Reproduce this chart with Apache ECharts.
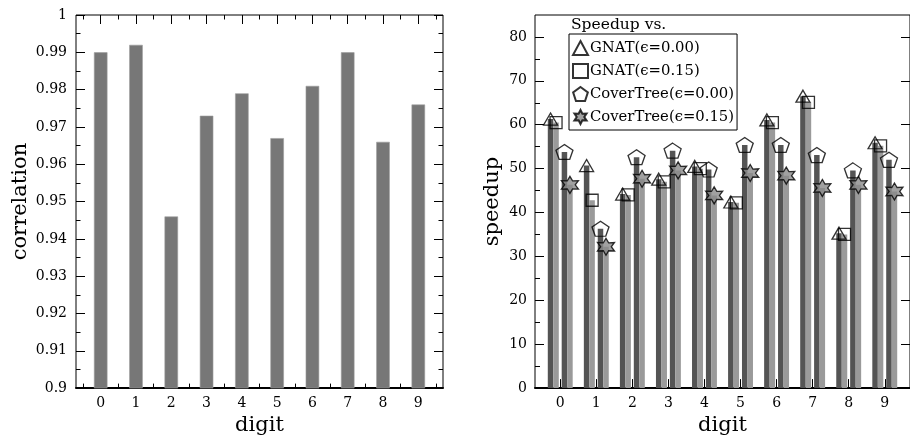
<!DOCTYPE html>
<html><head><meta charset="utf-8">
<script src="https://cdn.jsdelivr.net/npm/echarts@6/dist/echarts.min.js"></script>
<style>html,body{margin:0;padding:0;background:#fff}#c{width:910px;height:441px}</style>
</head><body><div id="c"></div>
<script>
// ---- data ----
const digits = [0, 1, 2, 3, 4, 5, 6, 7, 8, 9];
const correlation = [0.990, 0.992, 0.946, 0.973, 0.979, 0.967, 0.981, 0.990, 0.966, 0.976];
const gnat000 = [61.3, 50.7, 44.2, 47.6, 50.5, 42.4, 61.1, 66.5, 35.3, 55.9];
const gnat015 = [60.5, 42.8, 44.0, 47.0, 50.0, 42.2, 60.5, 65.1, 35.0, 55.2];
const cover000 = [53.8, 36.3, 52.6, 54.1, 49.8, 55.4, 55.4, 53.1, 49.6, 52.0];
const cover015 = [46.3, 32.2, 47.7, 49.6, 43.9, 49.0, 48.4, 45.6, 46.3, 44.8];
const speedTicks = [0, 10, 20, 30, 40, 50, 60, 70, 80];
const seriesNames = ['GNAT(\u03f5=0.00)', 'GNAT(\u03f5=0.15)', 'CoverTree(\u03f5=0.00)', 'CoverTree(\u03f5=0.15)'];
const legendTitle = 'Speedup vs.';

// ---- helpers ----
const TICKFONT = 'DejaVu Serif';
const SERIF = 'DejaVu Serif';
const halfTicks = digits.map(d => d - 0.5).concat([digits[digits.length - 1] + 0.5]);
const speedMinor = speedTicks.slice(0, -1).map(v => v + 5);

function xAx(grid, pos, ticks, len, extra) {
  return Object.assign({
    type: 'value', gridIndex: grid, position: pos, min: -0.7, max: 9.7,
    axisLine: { show: false, onZero: false },
    axisTick: { show: true, inside: true, length: len, customValues: ticks, lineStyle: { color: '#000', width: 1 } },
    axisLabel: { show: false },
    splitLine: { show: false }
  }, extra || {});
}
function mainX(grid) {
  return xAx(grid, 'bottom', digits, 9, {
    axisLine: { show: true, onZero: false, lineStyle: { color: '#000', width: 2 } },
    axisLabel: { show: true, customValues: digits, margin: 8, color: '#000', fontFamily: TICKFONT, fontSize: 14 },
    name: 'digit', nameLocation: 'middle', nameGap: 24,
    nameTextStyle: { fontFamily: SERIF, fontSize: 21, color: '#000' }
  });
}

const xAxes = [
  mainX(0),                              // 0
  xAx(0, 'bottom', halfTicks, 4.5),      // 1
  xAx(0, 'top', digits, 9),              // 2
  xAx(0, 'top', halfTicks, 4.5),         // 3
  mainX(1)                               // 4
];

const corrY = (pos, showLabel, name) => ({
  type: 'value', gridIndex: 0, position: pos, min: 0.9, max: 1, interval: 0.01,
  axisLine: { show: false, onZero: false },
  axisTick: { show: true, inside: true, length: 9, lineStyle: { color: '#000' } },
  minorTick: { show: true, splitNumber: 2, length: 4.5, lineStyle: { color: '#000' } },
  axisLabel: { show: showLabel, margin: 9, color: '#000', fontFamily: TICKFONT, fontSize: 14 },
  splitLine: { show: false }, minorSplitLine: { show: false },
  name: name || '', nameLocation: 'middle', nameGap: 45,
  nameTextStyle: { fontFamily: SERIF, fontSize: 21, color: '#000' }
});
const speedY = (pos, ticks, len, showLabel, name) => ({
  type: 'value', gridIndex: 1, position: pos, min: 0, max: 85,
  axisLine: { show: false, onZero: false },
  axisTick: { show: true, inside: true, length: len, customValues: ticks, lineStyle: { color: '#000' } },
  axisLabel: { show: showLabel, customValues: ticks, margin: 8, color: '#000', fontFamily: TICKFONT, fontSize: 14 },
  splitLine: { show: false },
  name: name || '', nameLocation: 'middle', nameGap: 32,
  nameTextStyle: { fontFamily: SERIF, fontSize: 21, color: '#000' }
});
const yAxes = [
  corrY('left', true, 'correlation'),          // 0
  corrY('right', false),                       // 1
  speedY('left', speedTicks, 9, true, 'speedup'), // 2
  speedY('left', speedMinor, 5, false),        // 3
  speedY('right', speedTicks, 9, false)        // 4
];

const pair = arr => digits.map((d, i) => [d, arr[i]]);
const DARK = '#545454', LIGHT = '#9a9a9a';
function speedBar(name, arr, color) {
  return { type: 'bar', name: name + ' bar', xAxisIndex: 4, yAxisIndex: 2, data: pair(arr),
    barWidth: 5.5, barGap: '0%', itemStyle: { color: color }, silent: true };
}
function marker(name, arr, symbol, size, off, fill) {
  return { type: 'scatter', name: name, xAxisIndex: 4, yAxisIndex: 2, data: pair(arr),
    symbol: symbol, symbolSize: size, symbolOffset: [off, 0],
    itemStyle: { color: fill || 'rgba(0,0,0,0)', borderColor: '#000', borderWidth: 1.3 }, z: 5 };
}
const PENT = 'path://M50,0 L97.6,34.5 L79.4,90.5 L20.6,90.5 L2.4,34.5 Z';
const STAR = 'path://M50,0 L63.5,26.6 L93.3,25 L77,50 L93.3,75 L63.5,73.4 L50,100 L36.5,73.4 L6.7,75 L23,50 L6.7,25 L36.5,26.6 Z';

const option = {
  animation: false,
  backgroundColor: '#fff',
  grid: [
    { left: 76, top: 15, width: 367, height: 375, show: true, borderColor: '#000', borderWidth: 1, backgroundColor: 'transparent' },
    { left: 535, top: 15, width: 380.7, height: 375, show: true, borderColor: '#000', borderWidth: 1, backgroundColor: 'transparent' }
  ],
  title: { text: legendTitle, left: 571, top: 17, padding: 0,
    textStyle: { fontFamily: SERIF, fontSize: 15.5, fontWeight: 'normal', color: '#000' } },
  legend: {
    data: seriesNames, orient: 'vertical', left: 569, top: 34, padding: [6, 3, 5, 3],
    itemGap: 7, itemWidth: 15, itemHeight: 14,
    borderColor: '#000', borderWidth: 1, backgroundColor: '#fff',
    textStyle: { fontFamily: SERIF, fontSize: 14.8, color: '#000', padding: [0, 0, 0, -3] },
    selectedMode: false
  },
  xAxis: xAxes,
  yAxis: yAxes,
  series: [
    { type: 'bar', name: 'correlation', xAxisIndex: 0, yAxisIndex: 0, data: pair(correlation),
      barWidth: 13.5, itemStyle: { color: '#777777', borderColor: '#9c9c9c', borderWidth: 0.6 }, silent: true },
    speedBar(seriesNames[0], gnat000, DARK),
    speedBar(seriesNames[1], gnat015, LIGHT),
    { type: 'bar', name: 'gap', xAxisIndex: 4, yAxisIndex: 2, data: [], barWidth: 2.9, barGap: '0%' },
    speedBar(seriesNames[2], cover000, DARK),
    speedBar(seriesNames[3], cover015, LIGHT),
    marker(seriesNames[0], gnat000, 'triangle', [14, 12], -9.7),
    marker(seriesNames[1], gnat015, 'rect', [12, 12], -4.2),
    marker(seriesNames[2], cover000, PENT, [17, 15], 4.2),
    marker(seriesNames[3], cover015, STAR, [17, 17], 9.7, '#8a8a8a')
  ]
};
const chart = echarts.init(document.getElementById('c'), null, { renderer: 'canvas' });
chart.setOption(option);
</script>
</body></html>
